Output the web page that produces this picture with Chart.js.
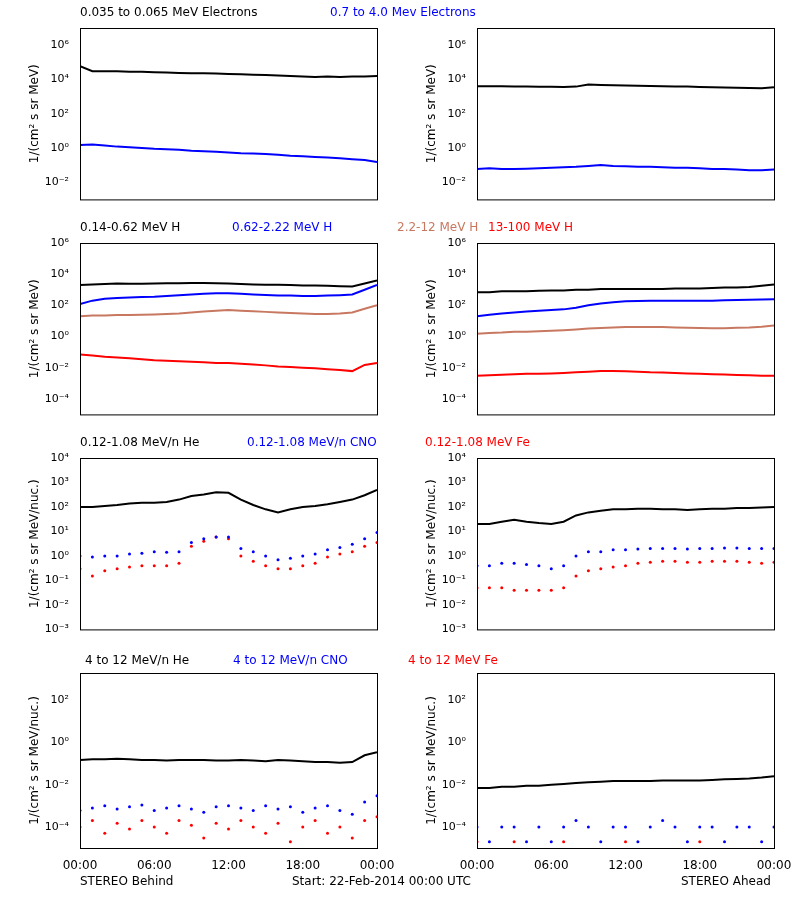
<!DOCTYPE html>
<html><head><meta charset="utf-8">
<script src="https://cdn.jsdelivr.net/npm/chart.js@4"></script>
<style>
body{margin:0;background:#fff;width:800px;height:900px;position:relative;font-family:"DejaVu Sans",sans-serif;font-size:12px;overflow:hidden}
canvas{position:absolute}
.t{position:absolute;white-space:nowrap;font-size:12px}
</style></head><body>
<script>
const hours=[0,1,2,3,4,5,6,7,8,9,10,11,12,13,14,15,16,17,18,19,20,21,22,23,24];
const xTickLabels=['00:00','06:00','12:00','18:00','00:00'];
// Panel 1 (electrons)
const eLoB=[6e4,3e4,3e4,3e4,2.8e4,2.8e4,2.6e4,2.5e4,2.4e4,2.3e4,2.3e4,2.2e4,2.1e4,2e4,1.9e4,1.8e4,1.7e4,1.6e4,1.5e4,1.4e4,1.5e4,1.4e4,1.5e4,1.5e4,1.6e4];
const eHiB=[1.5,1.6,1.4,1.2,1.1,1.0,0.9,0.85,0.8,0.7,0.65,0.6,0.55,0.5,0.48,0.45,0.4,0.35,0.33,0.3,0.28,0.25,0.22,0.2,0.15];
const eLoA=[4e3,4e3,4e3,3.8e3,3.8e3,3.7e3,3.7e3,3.6e3,3.8e3,5e3,4.8e3,4.6e3,4.4e3,4.3e3,4.2e3,4e3,3.9e3,3.8e3,3.6e3,3.5e3,3.4e3,3.3e3,3.2e3,3.1e3,3.5e3];
const eHiA=[0.06,0.065,0.06,0.06,0.062,0.065,0.07,0.075,0.08,0.09,0.1,0.09,0.085,0.08,0.08,0.075,0.07,0.07,0.065,0.06,0.06,0.055,0.05,0.05,0.055];
// Panel 2 (protons)
const h1B=[2e3,2.2e3,2.3e3,2.5e3,2.4e3,2.4e3,2.5e3,2.6e3,2.6e3,2.7e3,2.7e3,2.6e3,2.5e3,2.3e3,2.2e3,2.1e3,2.1e3,2e3,1.9e3,1.9e3,1.8e3,1.7e3,1.6e3,2.5e3,4e3];
const h2B=[1.2e2,2e2,2.6e2,3e2,3.2e2,3.4e2,3.6e2,4e2,4.5e2,5e2,5.5e2,6e2,6e2,5.5e2,5e2,4.6e2,4.3e2,4.2e2,4e2,4e2,4.2e2,4.5e2,5e2,1e3,2e3];
const h3B=[20,22,22,24,24,25,26,28,30,35,40,45,50,45,42,38,35,32,30,28,28,30,35,60,100];
const h4B=[0.07,0.06,0.05,0.045,0.04,0.035,0.03,0.028,0.026,0.024,0.022,0.02,0.02,0.018,0.016,0.014,0.012,0.011,0.01,0.009,0.008,0.007,0.006,0.015,0.02];
const h1A=[7e2,7e2,8e2,8e2,8e2,8.5e2,9e2,9e2,1e3,1e3,1.1e3,1.1e3,1.1e3,1.1e3,1.1e3,1.1e3,1.2e3,1.2e3,1.2e3,1.3e3,1.4e3,1.4e3,1.5e3,1.8e3,2.2e3];
const h2A=[20,25,30,35,40,45,50,55,70,100,130,160,180,190,200,200,200,200,200,200,210,220,230,240,250];
const h3A=[1.5,1.7,1.8,2,2,2.2,2.3,2.5,2.8,3.2,3.5,3.8,4,4,4,4,3.8,3.6,3.5,3.4,3.4,3.6,3.8,4.2,5];
const h4A=[0.003,0.0032,0.0035,0.0038,0.004,0.004,0.0042,0.0045,0.005,0.0055,0.006,0.006,0.0058,0.0055,0.005,0.0048,0.0045,0.0042,0.004,0.0038,0.0036,0.0034,0.0032,0.003,0.003];
// Panel 3 (low energy ions)
const heLoB=[100,100,110,120,140,150,150,160,200,280,320,400,380,200,120,80,60,80,100,110,130,160,200,300,500];
const cnoLoB=[1.0,0.9,1.0,1.0,1.2,1.3,1.5,1.4,1.5,3.5,5,6,6,2,1.5,1.0,0.7,0.8,1.0,1.2,1.8,2.2,3,5,9];
const feLoB=[0.3,0.15,0.25,0.3,0.35,0.4,0.4,0.4,0.5,2.5,4,6,5,1,0.6,0.4,0.3,0.3,0.4,0.5,0.9,1.2,1.5,2.5,3.5];
const heLoA=[20,20,25,30,25,22,20,25,45,60,70,80,80,85,85,80,80,75,80,85,85,90,90,95,100];
const cnoLoA=[0.4,0.4,0.5,0.5,0.45,0.4,0.3,0.4,1.0,1.5,1.5,1.8,1.8,1.9,2,2,2,1.9,2,2,2.1,2.1,2,2,2];
const feLoA=[0.05,0.05,0.05,0.04,0.04,0.04,0.04,0.05,0.15,0.25,0.3,0.35,0.4,0.5,0.55,0.6,0.6,0.55,0.55,0.6,0.6,0.6,0.55,0.5,0.55];
// Panel 4 (high energy ions)
const heHiB=[0.15,0.16,0.16,0.17,0.16,0.15,0.15,0.14,0.15,0.15,0.15,0.14,0.14,0.15,0.14,0.13,0.15,0.14,0.13,0.12,0.12,0.11,0.12,0.25,0.35];
const cnoHiB=[6e-4,8e-4,1e-3,7e-4,9e-4,1.1e-3,6e-4,8e-4,1e-3,7e-4,5e-4,9e-4,1e-3,8e-4,6e-4,1e-3,7e-4,9e-4,5e-4,8e-4,1e-3,6e-4,4e-4,1.5e-3,3e-3];
const feHiB=[1e-4,2e-4,5e-5,1.5e-4,8e-5,2e-4,1e-4,5e-5,2e-4,1.2e-4,3e-5,1.5e-4,8e-5,2e-4,1e-4,5e-5,1.5e-4,2e-5,1e-4,2e-4,5e-5,1e-4,3e-5,2e-4,3e-4];
const heHiA=[7e-3,7e-3,8e-3,8e-3,9e-3,9e-3,1e-2,1.1e-2,1.2e-2,1.3e-2,1.4e-2,1.5e-2,1.5e-2,1.5e-2,1.5e-2,1.6e-2,1.6e-2,1.6e-2,1.6e-2,1.7e-2,1.8e-2,1.9e-2,2e-2,2.2e-2,2.5e-2];
const cnoHiA=[1e-4,2e-5,1e-4,1e-4,2e-5,1e-4,2e-5,1e-4,2e-4,1e-4,2e-5,1e-4,1e-4,2e-5,1e-4,2e-4,1e-4,2e-5,1e-4,1e-4,2e-5,1e-4,1e-4,2e-5,1e-4];
const feHiA=[2e-5,null,null,2e-5,null,null,null,2e-5,null,null,null,null,2e-5,null,null,null,null,null,2e-5,null,null,null,null,null,null];

const BL='#000',BU='#0000ff',BR='#c87860',RD='#ff0000';
function sup(n){const m={'-':'⁻','0':'⁰','1':'¹','2':'²','3':'³','4':'⁴','5':'⁵','6':'⁶','7':'⁷','8':'⁸','9':'⁹'};return String(n).split('').map(c=>m[c]).join('');}
const frame={id:'frame',afterDraw(c){const a=c.chartArea,x=c.ctx;x.save();x.strokeStyle='#000';x.lineWidth=1;x.strokeRect(a.left+0.5,a.top+0.5,a.right-a.left,a.bottom-a.top);x.restore();}};
function panel(left,top,series,ymin,ymax,exps,ytitle,bottom){
  const c=document.createElement('canvas');
  const bs=bottom?30:6;
  c.width=400;c.height=175+10+bs;
  c.style.left=left+'px';c.style.top=(top-10)+'px';
  document.body.appendChild(c);
  new Chart(c,{type:'line',data:{labels:hours,datasets:series.map(s=>({data:s.d.map((v,i)=>({x:hours[i],y:v})),borderColor:s.c,backgroundColor:s.c,borderWidth:s.pts?0:2,showLine:!s.pts,pointRadius:s.pts?1.5:0,spanGaps:false}))},
   plugins:[frame],
   options:{responsive:false,animation:false,layout:{padding:{top:10,right:23,left:28,bottom:0}},plugins:{legend:{display:false},tooltip:{enabled:false}},
    scales:{
     x:{type:'linear',min:0,max:24,grid:{display:false},border:{display:false},
        afterBuildTicks(s){s.ticks=[0,6,12,18,24].map(v=>({value:v}));},
        afterFit(s){s.height=bs;},
        ticks:{display:bottom,color:'#000',font:{size:12,family:'DejaVu Sans'},callback:(v,i)=>xTickLabels[i]}},
     y:{type:'logarithmic',min:ymin,max:ymax,grid:{display:false},border:{display:false},
        afterBuildTicks(s){s.ticks=exps.map(e=>({value:Math.pow(10,e)}));},
        afterFit(s){s.width=52;},
        ticks:{color:'#000',font:{size:11,family:'DejaVu Sans'},callback:v=>'10'+sup(Math.round(Math.log10(v)))},
        title:{display:true,text:ytitle,color:'#000',font:{size:12,family:'DejaVu Sans'},padding:0}}}}});
}
const T1='1/(cm² s sr MeV)',T2='1/(cm² s sr MeV/nuc.)';
panel(0,28,[{d:eLoB,c:BL},{d:eHiB,c:BU}],1e-3,1e7,[-2,0,2,4,6],T1,false);
panel(397,28,[{d:eLoA,c:BL},{d:eHiA,c:BU}],1e-3,1e7,[-2,0,2,4,6],T1,false);
panel(0,243,[{d:h1B,c:BL},{d:h2B,c:BU},{d:h3B,c:BR},{d:h4B,c:RD}],1e-5,1e6,[-4,-2,0,2,4,6],T1,false);
panel(397,243,[{d:h1A,c:BL},{d:h2A,c:BU},{d:h3A,c:BR},{d:h4A,c:RD}],1e-5,1e6,[-4,-2,0,2,4,6],T1,false);
panel(0,458,[{d:heLoB,c:BL},{d:cnoLoB,c:BU,pts:1},{d:feLoB,c:RD,pts:1}],1e-3,1e4,[-3,-2,-1,0,1,2,3,4],T2,false);
panel(397,458,[{d:heLoA,c:BL},{d:cnoLoA,c:BU,pts:1},{d:feLoA,c:RD,pts:1}],1e-3,1e4,[-3,-2,-1,0,1,2,3,4],T2,false);
panel(0,673,[{d:heHiB,c:BL},{d:cnoHiB,c:BU,pts:1},{d:feHiB,c:RD,pts:1}],1e-5,2e3,[-4,-2,0,2],T2,true);
panel(397,673,[{d:heHiA,c:BL},{d:cnoHiA,c:BU,pts:1},{d:feHiA,c:RD,pts:1}],1e-5,2e3,[-4,-2,0,2],T2,true);
const labels=[
 [80,5,'0.035 to 0.065 MeV Electrons',BL],[330,5,'0.7 to 4.0 Mev Electrons',BU],
 [80,220,'0.14-0.62 MeV H',BL],[232,220,'0.62-2.22 MeV H',BU],[397,220,'2.2-12 MeV H',BR],[488,220,'13-100 MeV H',RD],
 [80,435,'0.12-1.08 MeV/n He',BL],[247,435,'0.12-1.08 MeV/n CNO',BU],[425,435,'0.12-1.08 MeV Fe',RD],
 [85,653,'4 to 12 MeV/n He',BL],[233,653,'4 to 12 MeV/n CNO',BU],[408,653,'4 to 12 MeV Fe',RD],
 [80,874,'STEREO Behind',BL],[292,874,'Start: 22-Feb-2014 00:00 UTC',BL],[681,874,'STEREO Ahead',BL]];
labels.forEach(([x,y,t,c])=>{const d=document.createElement('div');d.className='t';d.style.left=x+'px';d.style.top=y+'px';d.style.color=c;d.textContent=t;document.body.appendChild(d);});
</script>
</body></html>
